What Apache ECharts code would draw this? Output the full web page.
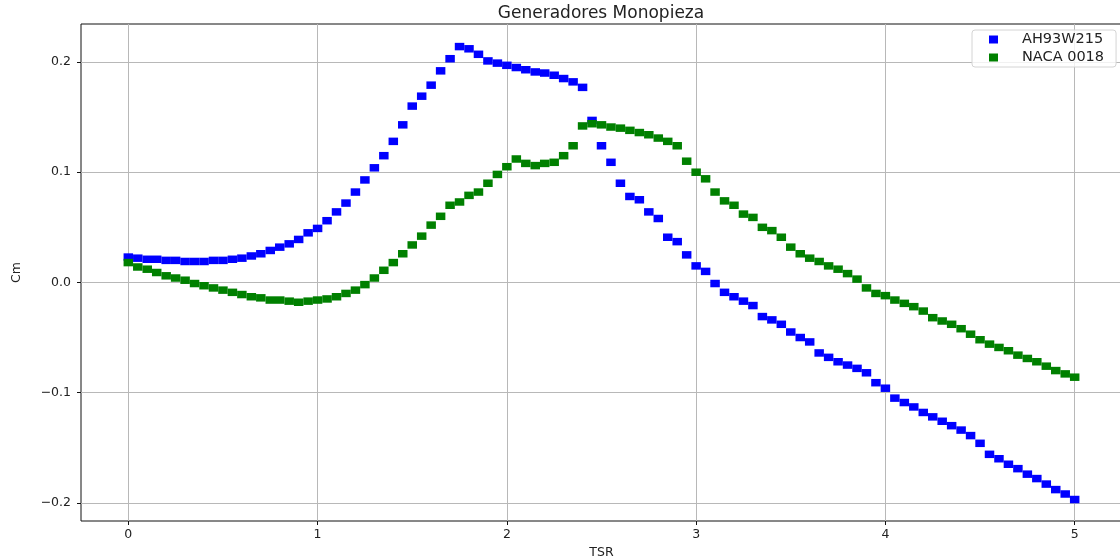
<!DOCTYPE html>
<html>
<head>
<meta charset="utf-8">
<title>Generadores Monopieza</title>
<script src="https://cdn.jsdelivr.net/npm/echarts@6/dist/echarts.min.js"></script>
<style>
html, body { margin: 0; padding: 0; background: #fff; }
#chart { width: 1120px; height: 558px; }
</style>
</head>
<body>
<div id="chart"></div>
<script>
// TSR (eje x)
var tsr = [
    0.00, 0.05, 0.10, 0.15, 0.20, 0.25, 0.30, 0.35, 0.40, 0.45,
    0.50, 0.55, 0.60, 0.65, 0.70, 0.75, 0.80, 0.85, 0.90, 0.95,
    1.00, 1.05, 1.10, 1.15, 1.20, 1.25, 1.30, 1.35, 1.40, 1.45,
    1.50, 1.55, 1.60, 1.65, 1.70, 1.75, 1.80, 1.85, 1.90, 1.95,
    2.00, 2.05, 2.10, 2.15, 2.20, 2.25, 2.30, 2.35, 2.40, 2.45,
    2.50, 2.55, 2.60, 2.65, 2.70, 2.75, 2.80, 2.85, 2.90, 2.95,
    3.00, 3.05, 3.10, 3.15, 3.20, 3.25, 3.30, 3.35, 3.40, 3.45,
    3.50, 3.55, 3.60, 3.65, 3.70, 3.75, 3.80, 3.85, 3.90, 3.95,
    4.00, 4.05, 4.10, 4.15, 4.20, 4.25, 4.30, 4.35, 4.40, 4.45,
    4.50, 4.55, 4.60, 4.65, 4.70, 4.75, 4.80, 4.85, 4.90, 4.95,
    5.00
];

// Cm AH93W215
var cmAH93W215 = [
    0.023, 0.022, 0.021, 0.021, 0.020, 0.020, 0.019, 0.019, 0.019, 0.020,
    0.020, 0.021, 0.022, 0.024, 0.026, 0.029, 0.032, 0.035, 0.039, 0.045,
    0.049, 0.056, 0.064, 0.072, 0.082, 0.093, 0.104, 0.115, 0.128, 0.143,
    0.160, 0.169, 0.179, 0.192, 0.203, 0.214, 0.212, 0.207, 0.201, 0.199,
    0.197, 0.195, 0.193, 0.191, 0.190, 0.188, 0.185, 0.182, 0.177, 0.147,
    0.124, 0.109, 0.090, 0.078, 0.075, 0.064, 0.058, 0.041, 0.037, 0.025,
    0.015, 0.010, -0.001, -0.009, -0.013, -0.017, -0.021, -0.031, -0.034, -0.038,
    -0.045, -0.050, -0.054, -0.064, -0.068, -0.072, -0.075, -0.078, -0.082, -0.091,
    -0.096, -0.105, -0.109, -0.113, -0.118, -0.122, -0.126, -0.130, -0.134, -0.139,
    -0.146, -0.156, -0.160, -0.165, -0.169, -0.174, -0.178, -0.183, -0.188, -0.192,
    -0.197
];

// Cm NACA 0018
var cmNACA0018 = [
    0.018, 0.014, 0.012, 0.009, 0.006, 0.004, 0.002, -0.001, -0.003, -0.005,
    -0.007, -0.009, -0.011, -0.013, -0.014, -0.016, -0.016, -0.017, -0.018, -0.017,
    -0.016, -0.015, -0.013, -0.010, -0.007, -0.002, 0.004, 0.011, 0.018, 0.026,
    0.034, 0.042, 0.052, 0.060, 0.070, 0.073, 0.079, 0.082, 0.090, 0.098,
    0.105, 0.112, 0.108, 0.106, 0.108, 0.109, 0.115, 0.124, 0.142, 0.144,
    0.143, 0.141, 0.140, 0.138, 0.136, 0.134, 0.131, 0.128, 0.124, 0.110,
    0.100, 0.094, 0.082, 0.074, 0.070, 0.062, 0.059, 0.050, 0.047, 0.041,
    0.032, 0.026, 0.022, 0.019, 0.015, 0.012, 0.008, 0.003, -0.005, -0.010,
    -0.012, -0.016, -0.019, -0.022, -0.026, -0.032, -0.035, -0.038, -0.042, -0.047,
    -0.052, -0.056, -0.059, -0.062, -0.066, -0.069, -0.072, -0.076, -0.080, -0.083,
    -0.086
];

var xTicks = [0, 1, 2, 3, 4, 5];
var yTicks = [-0.2, -0.1, 0.0, 0.1, 0.2];

var seriesNames = ['AH93W215', 'NACA 0018'];

function pairs(xs, ys) {
    var out = [];
    for (var i = 0; i < xs.length; i++) {
        out.push([xs[i], ys[i]]);
    }
    return out;
}

var font = 'DejaVu Sans';
var chart = echarts.init(document.getElementById('chart'), null, { renderer: 'canvas' });

chart.setOption({
    animation: false,
    backgroundColor: '#fff',
    title: {
        text: 'Generadores Monopieza',
        left: 601,
        textAlign: 'center',
        top: 5,
        padding: 0,
        textStyle: {
            fontFamily: font,
            fontSize: 17,
            fontWeight: 'normal',
            color: '#222'
        }
    },
    legend: {
        data: seriesNames,
        orient: 'vertical',
        left: 972,
        top: 30,
        padding: [2, 12, 2, 17],
        itemGap: 3,
        itemWidth: 9,
        itemHeight: 8,
        icon: 'rect',
        backgroundColor: 'rgba(255,255,255,0.8)',
        borderColor: '#d4d4d4',
        borderWidth: 1,
        borderRadius: 3,
        textStyle: {
            fontFamily: font,
            fontSize: 14.5,
            lineHeight: 14,
            padding: [0, 0, 0, 19],
            color: '#222'
        }
    },
    grid: {
        left: 81,
        right: -2,
        top: 24,
        bottom: 37,
        show: true,
        borderColor: '#111',
        borderWidth: 1,
        outerBoundsMode: 'none'
    },
    xAxis: {
        type: 'value',
        min: -0.25,
        max: 5.25,
        name: 'TSR',
        nameLocation: 'middle',
        nameGap: 22,
        nameTextStyle: { fontFamily: font, fontSize: 12.5, color: '#222' },
        axisLine: { show: false, onZero: false },
        axisTick: {
            show: true,
            length: 4,
            customValues: xTicks,
            lineStyle: { color: '#111' }
        },
        axisLabel: {
            customValues: xTicks,
            margin: 7,
            fontFamily: font,
            fontSize: 12.5,
            color: '#222',
            formatter: function (v) { return String(v); }
        },
        splitLine: {
            show: true,
            lineStyle: { color: '#b8b8b8', width: 1 }
        }
    },
    yAxis: {
        type: 'value',
        min: -0.2165,
        max: 0.2345,
        name: 'Cm',
        nameLocation: 'middle',
        nameGap: 58,
        nameTextStyle: { fontFamily: font, fontSize: 12.5, color: '#222' },
        axisLine: { show: false, onZero: false },
        axisTick: {
            show: true,
            length: 4,
            customValues: yTicks,
            lineStyle: { color: '#111' }
        },
        axisLabel: {
            customValues: yTicks,
            margin: 10,
            fontFamily: font,
            fontSize: 12.5,
            color: '#222',
            formatter: function (v) { return v.toFixed(1).replace('-', '\u2212'); }
        },
        splitLine: {
            show: true,
            lineStyle: { color: '#b8b8b8', width: 1 }
        }
    },
    series: [{
        name: seriesNames[0],
        type: 'scatter',
        symbol: 'rect',
        symbolSize: [9.5, 7.5],
        itemStyle: { color: '#0000ff', opacity: 1 },
        data: pairs(tsr, cmAH93W215)
    }, {
        name: seriesNames[1],
        type: 'scatter',
        symbol: 'rect',
        symbolSize: [9.5, 7.5],
        itemStyle: { color: '#008000', opacity: 1 },
        data: pairs(tsr, cmNACA0018)
    }]
});
</script>
</body>
</html>
